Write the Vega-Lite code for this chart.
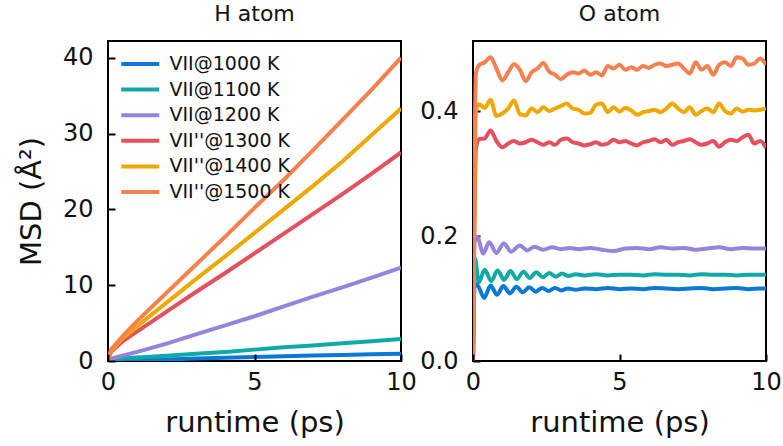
{
  "$schema": "https://vega.github.io/schema/vega-lite/v6.json",
  "background": "white",
  "padding": {"left": 16, "top": 2, "right": 4, "bottom": 0},
  "spacing": 0,
  "datasets": {
    "H": [
      {"t": 0, "msd": 0, "s": "VII@1000 K"}, {"t": 1, "msd": 0.1, "s": "VII@1000 K"}, {"t": 2, "msd": 0.2, "s": "VII@1000 K"}, {"t": 3, "msd": 0.33, "s": "VII@1000 K"}, {"t": 4, "msd": 0.44, "s": "VII@1000 K"}, {"t": 5, "msd": 0.54, "s": "VII@1000 K"}, {"t": 6, "msd": 0.63, "s": "VII@1000 K"}, {"t": 7, "msd": 0.72, "s": "VII@1000 K"}, {"t": 8, "msd": 0.8, "s": "VII@1000 K"}, {"t": 9, "msd": 0.88, "s": "VII@1000 K"}, {"t": 10, "msd": 0.95, "s": "VII@1000 K"},
      {"t": 0, "msd": 0, "s": "VII@1100 K"}, {"t": 0.2, "msd": 0.25, "s": "VII@1100 K"}, {"t": 1, "msd": 0.45, "s": "VII@1100 K"}, {"t": 2, "msd": 0.7, "s": "VII@1100 K"}, {"t": 3, "msd": 0.95, "s": "VII@1100 K"}, {"t": 4, "msd": 1.2, "s": "VII@1100 K"}, {"t": 5, "msd": 1.5, "s": "VII@1100 K"}, {"t": 6, "msd": 1.8, "s": "VII@1100 K"}, {"t": 7, "msd": 2.05, "s": "VII@1100 K"}, {"t": 8, "msd": 2.35, "s": "VII@1100 K"}, {"t": 9, "msd": 2.6, "s": "VII@1100 K"}, {"t": 10, "msd": 2.9, "s": "VII@1100 K"},
      {"t": 0, "msd": 0, "s": "VII@1200 K"}, {"t": 0.2, "msd": 0.4, "s": "VII@1200 K"}, {"t": 1, "msd": 1.2, "s": "VII@1200 K"}, {"t": 2, "msd": 2.3, "s": "VII@1200 K"}, {"t": 3, "msd": 3.5, "s": "VII@1200 K"}, {"t": 4, "msd": 4.7, "s": "VII@1200 K"}, {"t": 5, "msd": 5.9, "s": "VII@1200 K"}, {"t": 6, "msd": 7.2, "s": "VII@1200 K"}, {"t": 7, "msd": 8.5, "s": "VII@1200 K"}, {"t": 8, "msd": 9.7, "s": "VII@1200 K"}, {"t": 9, "msd": 11.0, "s": "VII@1200 K"}, {"t": 10, "msd": 12.3, "s": "VII@1200 K"},
      {"t": 0, "msd": 0, "s": "VII''@1300 K"}, {"t": 0.1, "msd": 1.2, "s": "VII''@1300 K"}, {"t": 0.5, "msd": 2.6, "s": "VII''@1300 K"}, {"t": 1, "msd": 3.9, "s": "VII''@1300 K"}, {"t": 2, "msd": 6.5, "s": "VII''@1300 K"}, {"t": 3, "msd": 9.1, "s": "VII''@1300 K"}, {"t": 4, "msd": 11.6, "s": "VII''@1300 K"}, {"t": 5, "msd": 14.2, "s": "VII''@1300 K"}, {"t": 6, "msd": 16.8, "s": "VII''@1300 K"}, {"t": 7, "msd": 19.4, "s": "VII''@1300 K"}, {"t": 8, "msd": 22.0, "s": "VII''@1300 K"}, {"t": 9, "msd": 24.7, "s": "VII''@1300 K"}, {"t": 10, "msd": 27.5, "s": "VII''@1300 K"},
      {"t": 0, "msd": 0, "s": "VII''@1400 K"}, {"t": 0.1, "msd": 1.3, "s": "VII''@1400 K"}, {"t": 0.5, "msd": 3.0, "s": "VII''@1400 K"}, {"t": 1, "msd": 4.6, "s": "VII''@1400 K"}, {"t": 2, "msd": 7.7, "s": "VII''@1400 K"}, {"t": 3, "msd": 10.8, "s": "VII''@1400 K"}, {"t": 4, "msd": 13.8, "s": "VII''@1400 K"}, {"t": 5, "msd": 16.9, "s": "VII''@1400 K"}, {"t": 6, "msd": 20.0, "s": "VII''@1400 K"}, {"t": 7, "msd": 23.1, "s": "VII''@1400 K"}, {"t": 8, "msd": 26.3, "s": "VII''@1400 K"}, {"t": 9, "msd": 29.8, "s": "VII''@1400 K"}, {"t": 10, "msd": 33.3, "s": "VII''@1400 K"},
      {"t": 0, "msd": 0, "s": "VII''@1500 K"}, {"t": 0.1, "msd": 1.5, "s": "VII''@1500 K"}, {"t": 0.5, "msd": 3.3, "s": "VII''@1500 K"}, {"t": 1, "msd": 5.3, "s": "VII''@1500 K"}, {"t": 2, "msd": 9.0, "s": "VII''@1500 K"}, {"t": 3, "msd": 12.7, "s": "VII''@1500 K"}, {"t": 4, "msd": 16.4, "s": "VII''@1500 K"}, {"t": 5, "msd": 20.2, "s": "VII''@1500 K"}, {"t": 6, "msd": 23.9, "s": "VII''@1500 K"}, {"t": 7, "msd": 27.8, "s": "VII''@1500 K"}, {"t": 8, "msd": 31.8, "s": "VII''@1500 K"}, {"t": 9, "msd": 35.8, "s": "VII''@1500 K"}, {"t": 10, "msd": 40.0, "s": "VII''@1500 K"}
    ],
    "O": [
      {"t": 0, "msd": 0, "s": "VII@1000 K"}, {"t": 0.06, "msd": 0.125, "s": "VII@1000 K"}, {"t": 0.2, "msd": 0.118, "s": "VII@1000 K"}, {"t": 0.38, "msd": 0.101, "s": "VII@1000 K"}, {"t": 0.6, "msd": 0.121, "s": "VII@1000 K"}, {"t": 0.82, "msd": 0.106, "s": "VII@1000 K"}, {"t": 1.04, "msd": 0.12, "s": "VII@1000 K"}, {"t": 1.26, "msd": 0.108, "s": "VII@1000 K"}, {"t": 1.48, "msd": 0.119, "s": "VII@1000 K"}, {"t": 1.7, "msd": 0.11, "s": "VII@1000 K"}, {"t": 1.92, "msd": 0.118, "s": "VII@1000 K"}, {"t": 2.14, "msd": 0.111, "s": "VII@1000 K"}, {"t": 2.36, "msd": 0.117, "s": "VII@1000 K"}, {"t": 2.58, "msd": 0.112, "s": "VII@1000 K"}, {"t": 2.8, "msd": 0.117, "s": "VII@1000 K"}, {"t": 3.02, "msd": 0.113, "s": "VII@1000 K"}, {"t": 3.24, "msd": 0.116, "s": "VII@1000 K"}, {"t": 3.5, "msd": 0.114, "s": "VII@1000 K"}, {"t": 3.8, "msd": 0.116, "s": "VII@1000 K"}, {"t": 4.2, "msd": 0.115, "s": "VII@1000 K"}, {"t": 4.6, "msd": 0.117, "s": "VII@1000 K"}, {"t": 5.0, "msd": 0.115, "s": "VII@1000 K"}, {"t": 5.4, "msd": 0.116, "s": "VII@1000 K"}, {"t": 5.8, "msd": 0.115, "s": "VII@1000 K"}, {"t": 6.2, "msd": 0.117, "s": "VII@1000 K"}, {"t": 6.6, "msd": 0.116, "s": "VII@1000 K"}, {"t": 7.0, "msd": 0.115, "s": "VII@1000 K"}, {"t": 7.4, "msd": 0.116, "s": "VII@1000 K"}, {"t": 7.8, "msd": 0.117, "s": "VII@1000 K"}, {"t": 8.2, "msd": 0.115, "s": "VII@1000 K"}, {"t": 8.6, "msd": 0.116, "s": "VII@1000 K"}, {"t": 9.0, "msd": 0.117, "s": "VII@1000 K"}, {"t": 9.4, "msd": 0.115, "s": "VII@1000 K"}, {"t": 9.8, "msd": 0.116, "s": "VII@1000 K"}, {"t": 10.0, "msd": 0.116, "s": "VII@1000 K"},
      {"t": 0, "msd": 0, "s": "VII@1100 K"}, {"t": 0.06, "msd": 0.165, "s": "VII@1100 K"}, {"t": 0.2, "msd": 0.126, "s": "VII@1100 K"}, {"t": 0.4, "msd": 0.146, "s": "VII@1100 K"}, {"t": 0.62, "msd": 0.128, "s": "VII@1100 K"}, {"t": 0.84, "msd": 0.145, "s": "VII@1100 K"}, {"t": 1.06, "msd": 0.13, "s": "VII@1100 K"}, {"t": 1.28, "msd": 0.144, "s": "VII@1100 K"}, {"t": 1.5, "msd": 0.131, "s": "VII@1100 K"}, {"t": 1.72, "msd": 0.143, "s": "VII@1100 K"}, {"t": 1.94, "msd": 0.133, "s": "VII@1100 K"}, {"t": 2.16, "msd": 0.142, "s": "VII@1100 K"}, {"t": 2.38, "msd": 0.134, "s": "VII@1100 K"}, {"t": 2.6, "msd": 0.141, "s": "VII@1100 K"}, {"t": 2.82, "msd": 0.135, "s": "VII@1100 K"}, {"t": 3.04, "msd": 0.14, "s": "VII@1100 K"}, {"t": 3.26, "msd": 0.136, "s": "VII@1100 K"}, {"t": 3.5, "msd": 0.139, "s": "VII@1100 K"}, {"t": 3.8, "msd": 0.137, "s": "VII@1100 K"}, {"t": 4.2, "msd": 0.139, "s": "VII@1100 K"}, {"t": 4.6, "msd": 0.137, "s": "VII@1100 K"}, {"t": 5.0, "msd": 0.138, "s": "VII@1100 K"}, {"t": 5.4, "msd": 0.138, "s": "VII@1100 K"}, {"t": 5.8, "msd": 0.137, "s": "VII@1100 K"}, {"t": 6.2, "msd": 0.139, "s": "VII@1100 K"}, {"t": 6.6, "msd": 0.138, "s": "VII@1100 K"}, {"t": 7.0, "msd": 0.138, "s": "VII@1100 K"}, {"t": 7.4, "msd": 0.137, "s": "VII@1100 K"}, {"t": 7.8, "msd": 0.139, "s": "VII@1100 K"}, {"t": 8.2, "msd": 0.138, "s": "VII@1100 K"}, {"t": 8.6, "msd": 0.138, "s": "VII@1100 K"}, {"t": 9.0, "msd": 0.137, "s": "VII@1100 K"}, {"t": 9.4, "msd": 0.138, "s": "VII@1100 K"}, {"t": 9.8, "msd": 0.138, "s": "VII@1100 K"}, {"t": 10.0, "msd": 0.138, "s": "VII@1100 K"},
      {"t": 0, "msd": 0, "s": "VII@1200 K"}, {"t": 0.05, "msd": 0.19, "s": "VII@1200 K"}, {"t": 0.15, "msd": 0.198, "s": "VII@1200 K"}, {"t": 0.35, "msd": 0.172, "s": "VII@1200 K"}, {"t": 0.55, "msd": 0.19, "s": "VII@1200 K"}, {"t": 0.8, "msd": 0.173, "s": "VII@1200 K"}, {"t": 1.05, "msd": 0.188, "s": "VII@1200 K"}, {"t": 1.3, "msd": 0.175, "s": "VII@1200 K"}, {"t": 1.6, "msd": 0.185, "s": "VII@1200 K"}, {"t": 1.85, "msd": 0.177, "s": "VII@1200 K"}, {"t": 2.1, "msd": 0.183, "s": "VII@1200 K"}, {"t": 2.4, "msd": 0.178, "s": "VII@1200 K"}, {"t": 2.7, "msd": 0.182, "s": "VII@1200 K"}, {"t": 3.0, "msd": 0.179, "s": "VII@1200 K"}, {"t": 3.3, "msd": 0.181, "s": "VII@1200 K"}, {"t": 3.6, "msd": 0.179, "s": "VII@1200 K"}, {"t": 4.0, "msd": 0.181, "s": "VII@1200 K"}, {"t": 4.4, "msd": 0.178, "s": "VII@1200 K"}, {"t": 4.8, "msd": 0.176, "s": "VII@1200 K"}, {"t": 5.2, "msd": 0.18, "s": "VII@1200 K"}, {"t": 5.6, "msd": 0.181, "s": "VII@1200 K"}, {"t": 6.0, "msd": 0.179, "s": "VII@1200 K"}, {"t": 6.4, "msd": 0.182, "s": "VII@1200 K"}, {"t": 6.8, "msd": 0.18, "s": "VII@1200 K"}, {"t": 7.2, "msd": 0.181, "s": "VII@1200 K"}, {"t": 7.6, "msd": 0.178, "s": "VII@1200 K"}, {"t": 8.0, "msd": 0.18, "s": "VII@1200 K"}, {"t": 8.4, "msd": 0.182, "s": "VII@1200 K"}, {"t": 8.8, "msd": 0.179, "s": "VII@1200 K"}, {"t": 9.2, "msd": 0.181, "s": "VII@1200 K"}, {"t": 9.6, "msd": 0.18, "s": "VII@1200 K"}, {"t": 10.0, "msd": 0.18, "s": "VII@1200 K"},
      {"t": 0, "msd": 0, "s": "VII''@1300 K"}, {"t": 0.1, "msd": 0.34, "s": "VII''@1300 K"}, {"t": 0.2, "msd": 0.355, "s": "VII''@1300 K"}, {"t": 0.4, "msd": 0.356, "s": "VII''@1300 K"}, {"t": 0.6, "msd": 0.369, "s": "VII''@1300 K"}, {"t": 0.8, "msd": 0.352, "s": "VII''@1300 K"}, {"t": 1.0, "msd": 0.342, "s": "VII''@1300 K"}, {"t": 1.2, "msd": 0.348, "s": "VII''@1300 K"}, {"t": 1.4, "msd": 0.352, "s": "VII''@1300 K"}, {"t": 1.6, "msd": 0.348, "s": "VII''@1300 K"}, {"t": 1.8, "msd": 0.35, "s": "VII''@1300 K"}, {"t": 2.0, "msd": 0.354, "s": "VII''@1300 K"}, {"t": 2.2, "msd": 0.35, "s": "VII''@1300 K"}, {"t": 2.4, "msd": 0.346, "s": "VII''@1300 K"}, {"t": 2.6, "msd": 0.35, "s": "VII''@1300 K"}, {"t": 2.8, "msd": 0.346, "s": "VII''@1300 K"}, {"t": 3.0, "msd": 0.354, "s": "VII''@1300 K"}, {"t": 3.2, "msd": 0.356, "s": "VII''@1300 K"}, {"t": 3.4, "msd": 0.35, "s": "VII''@1300 K"}, {"t": 3.6, "msd": 0.348, "s": "VII''@1300 K"}, {"t": 3.8, "msd": 0.345, "s": "VII''@1300 K"}, {"t": 4.0, "msd": 0.347, "s": "VII''@1300 K"}, {"t": 4.2, "msd": 0.35, "s": "VII''@1300 K"}, {"t": 4.4, "msd": 0.346, "s": "VII''@1300 K"}, {"t": 4.6, "msd": 0.348, "s": "VII''@1300 K"}, {"t": 4.8, "msd": 0.354, "s": "VII''@1300 K"}, {"t": 5.0, "msd": 0.35, "s": "VII''@1300 K"}, {"t": 5.2, "msd": 0.352, "s": "VII''@1300 K"}, {"t": 5.4, "msd": 0.348, "s": "VII''@1300 K"}, {"t": 5.6, "msd": 0.345, "s": "VII''@1300 K"}, {"t": 5.8, "msd": 0.35, "s": "VII''@1300 K"}, {"t": 6.0, "msd": 0.352, "s": "VII''@1300 K"}, {"t": 6.2, "msd": 0.355, "s": "VII''@1300 K"}, {"t": 6.4, "msd": 0.35, "s": "VII''@1300 K"}, {"t": 6.6, "msd": 0.354, "s": "VII''@1300 K"}, {"t": 6.8, "msd": 0.346, "s": "VII''@1300 K"}, {"t": 7.0, "msd": 0.35, "s": "VII''@1300 K"}, {"t": 7.2, "msd": 0.352, "s": "VII''@1300 K"}, {"t": 7.4, "msd": 0.355, "s": "VII''@1300 K"}, {"t": 7.6, "msd": 0.35, "s": "VII''@1300 K"}, {"t": 7.8, "msd": 0.346, "s": "VII''@1300 K"}, {"t": 8.0, "msd": 0.348, "s": "VII''@1300 K"}, {"t": 8.2, "msd": 0.352, "s": "VII''@1300 K"}, {"t": 8.4, "msd": 0.343, "s": "VII''@1300 K"}, {"t": 8.6, "msd": 0.35, "s": "VII''@1300 K"}, {"t": 8.8, "msd": 0.354, "s": "VII''@1300 K"}, {"t": 9.0, "msd": 0.352, "s": "VII''@1300 K"}, {"t": 9.2, "msd": 0.358, "s": "VII''@1300 K"}, {"t": 9.4, "msd": 0.362, "s": "VII''@1300 K"}, {"t": 9.6, "msd": 0.348, "s": "VII''@1300 K"}, {"t": 9.8, "msd": 0.352, "s": "VII''@1300 K"}, {"t": 10.0, "msd": 0.341, "s": "VII''@1300 K"},
      {"t": 0, "msd": 0, "s": "VII''@1400 K"}, {"t": 0.1, "msd": 0.4, "s": "VII''@1400 K"}, {"t": 0.2, "msd": 0.411, "s": "VII''@1400 K"}, {"t": 0.4, "msd": 0.405, "s": "VII''@1400 K"}, {"t": 0.6, "msd": 0.418, "s": "VII''@1400 K"}, {"t": 0.8, "msd": 0.392, "s": "VII''@1400 K"}, {"t": 1.0, "msd": 0.396, "s": "VII''@1400 K"}, {"t": 1.2, "msd": 0.404, "s": "VII''@1400 K"}, {"t": 1.4, "msd": 0.417, "s": "VII''@1400 K"}, {"t": 1.6, "msd": 0.395, "s": "VII''@1400 K"}, {"t": 1.8, "msd": 0.393, "s": "VII''@1400 K"}, {"t": 2.0, "msd": 0.404, "s": "VII''@1400 K"}, {"t": 2.2, "msd": 0.398, "s": "VII''@1400 K"}, {"t": 2.4, "msd": 0.406, "s": "VII''@1400 K"}, {"t": 2.6, "msd": 0.4, "s": "VII''@1400 K"}, {"t": 2.8, "msd": 0.404, "s": "VII''@1400 K"}, {"t": 3.0, "msd": 0.408, "s": "VII''@1400 K"}, {"t": 3.2, "msd": 0.412, "s": "VII''@1400 K"}, {"t": 3.4, "msd": 0.404, "s": "VII''@1400 K"}, {"t": 3.6, "msd": 0.402, "s": "VII''@1400 K"}, {"t": 3.8, "msd": 0.396, "s": "VII''@1400 K"}, {"t": 4.0, "msd": 0.397, "s": "VII''@1400 K"}, {"t": 4.2, "msd": 0.41, "s": "VII''@1400 K"}, {"t": 4.4, "msd": 0.412, "s": "VII''@1400 K"}, {"t": 4.6, "msd": 0.398, "s": "VII''@1400 K"}, {"t": 4.8, "msd": 0.406, "s": "VII''@1400 K"}, {"t": 5.0, "msd": 0.399, "s": "VII''@1400 K"}, {"t": 5.2, "msd": 0.405, "s": "VII''@1400 K"}, {"t": 5.4, "msd": 0.401, "s": "VII''@1400 K"}, {"t": 5.6, "msd": 0.394, "s": "VII''@1400 K"}, {"t": 5.8, "msd": 0.398, "s": "VII''@1400 K"}, {"t": 6.0, "msd": 0.4, "s": "VII''@1400 K"}, {"t": 6.2, "msd": 0.402, "s": "VII''@1400 K"}, {"t": 6.4, "msd": 0.398, "s": "VII''@1400 K"}, {"t": 6.6, "msd": 0.404, "s": "VII''@1400 K"}, {"t": 6.8, "msd": 0.412, "s": "VII''@1400 K"}, {"t": 7.0, "msd": 0.404, "s": "VII''@1400 K"}, {"t": 7.2, "msd": 0.398, "s": "VII''@1400 K"}, {"t": 7.4, "msd": 0.406, "s": "VII''@1400 K"}, {"t": 7.6, "msd": 0.394, "s": "VII''@1400 K"}, {"t": 7.8, "msd": 0.4, "s": "VII''@1400 K"}, {"t": 8.0, "msd": 0.404, "s": "VII''@1400 K"}, {"t": 8.2, "msd": 0.398, "s": "VII''@1400 K"}, {"t": 8.4, "msd": 0.412, "s": "VII''@1400 K"}, {"t": 8.6, "msd": 0.4, "s": "VII''@1400 K"}, {"t": 8.8, "msd": 0.396, "s": "VII''@1400 K"}, {"t": 9.0, "msd": 0.404, "s": "VII''@1400 K"}, {"t": 9.2, "msd": 0.399, "s": "VII''@1400 K"}, {"t": 9.4, "msd": 0.402, "s": "VII''@1400 K"}, {"t": 9.6, "msd": 0.401, "s": "VII''@1400 K"}, {"t": 9.8, "msd": 0.402, "s": "VII''@1400 K"}, {"t": 10.0, "msd": 0.404, "s": "VII''@1400 K"},
      {"t": 0, "msd": 0, "s": "VII''@1500 K"}, {"t": 0.1, "msd": 0.46, "s": "VII''@1500 K"}, {"t": 0.2, "msd": 0.473, "s": "VII''@1500 K"}, {"t": 0.4, "msd": 0.478, "s": "VII''@1500 K"}, {"t": 0.6, "msd": 0.486, "s": "VII''@1500 K"}, {"t": 0.8, "msd": 0.468, "s": "VII''@1500 K"}, {"t": 1.0, "msd": 0.449, "s": "VII''@1500 K"}, {"t": 1.2, "msd": 0.462, "s": "VII''@1500 K"}, {"t": 1.4, "msd": 0.475, "s": "VII''@1500 K"}, {"t": 1.6, "msd": 0.466, "s": "VII''@1500 K"}, {"t": 1.8, "msd": 0.448, "s": "VII''@1500 K"}, {"t": 2.0, "msd": 0.462, "s": "VII''@1500 K"}, {"t": 2.2, "msd": 0.468, "s": "VII''@1500 K"}, {"t": 2.4, "msd": 0.477, "s": "VII''@1500 K"}, {"t": 2.6, "msd": 0.463, "s": "VII''@1500 K"}, {"t": 2.8, "msd": 0.458, "s": "VII''@1500 K"}, {"t": 3.0, "msd": 0.451, "s": "VII''@1500 K"}, {"t": 3.2, "msd": 0.458, "s": "VII''@1500 K"}, {"t": 3.4, "msd": 0.462, "s": "VII''@1500 K"}, {"t": 3.6, "msd": 0.46, "s": "VII''@1500 K"}, {"t": 3.8, "msd": 0.465, "s": "VII''@1500 K"}, {"t": 4.0, "msd": 0.458, "s": "VII''@1500 K"}, {"t": 4.2, "msd": 0.462, "s": "VII''@1500 K"}, {"t": 4.4, "msd": 0.457, "s": "VII''@1500 K"}, {"t": 4.6, "msd": 0.472, "s": "VII''@1500 K"}, {"t": 4.8, "msd": 0.468, "s": "VII''@1500 K"}, {"t": 5.0, "msd": 0.474, "s": "VII''@1500 K"}, {"t": 5.2, "msd": 0.466, "s": "VII''@1500 K"}, {"t": 5.4, "msd": 0.47, "s": "VII''@1500 K"}, {"t": 5.6, "msd": 0.466, "s": "VII''@1500 K"}, {"t": 5.8, "msd": 0.472, "s": "VII''@1500 K"}, {"t": 6.0, "msd": 0.469, "s": "VII''@1500 K"}, {"t": 6.2, "msd": 0.474, "s": "VII''@1500 K"}, {"t": 6.4, "msd": 0.476, "s": "VII''@1500 K"}, {"t": 6.6, "msd": 0.472, "s": "VII''@1500 K"}, {"t": 6.8, "msd": 0.474, "s": "VII''@1500 K"}, {"t": 7.0, "msd": 0.476, "s": "VII''@1500 K"}, {"t": 7.2, "msd": 0.468, "s": "VII''@1500 K"}, {"t": 7.4, "msd": 0.46, "s": "VII''@1500 K"}, {"t": 7.6, "msd": 0.478, "s": "VII''@1500 K"}, {"t": 7.8, "msd": 0.466, "s": "VII''@1500 K"}, {"t": 8.0, "msd": 0.472, "s": "VII''@1500 K"}, {"t": 8.2, "msd": 0.458, "s": "VII''@1500 K"}, {"t": 8.4, "msd": 0.474, "s": "VII''@1500 K"}, {"t": 8.6, "msd": 0.478, "s": "VII''@1500 K"}, {"t": 8.8, "msd": 0.472, "s": "VII''@1500 K"}, {"t": 9.0, "msd": 0.486, "s": "VII''@1500 K"}, {"t": 9.2, "msd": 0.484, "s": "VII''@1500 K"}, {"t": 9.4, "msd": 0.474, "s": "VII''@1500 K"}, {"t": 9.6, "msd": 0.476, "s": "VII''@1500 K"}, {"t": 9.8, "msd": 0.484, "s": "VII''@1500 K"}, {"t": 10.0, "msd": 0.474, "s": "VII''@1500 K"}
    ]
  },
  "hconcat": [
    {
      "width": 293,
      "height": 320,
      "title": "H atom",
      "data": {"name": "H"},
      "mark": {"type": "line", "strokeWidth": 4, "clip": true},
      "encoding": {
        "x": {"field": "t", "type": "quantitative", "title": "runtime (ps)", "scale": {"domain": [0, 10], "nice": false}, "axis": {"values": [0, 5, 10], "ticks": true, "tickSize": 7, "offset": -7, "zindex": 1}},
        "y": {"field": "msd", "type": "quantitative", "title": "MSD (Å²)", "scale": {"domain": [0, 42.2], "nice": false}, "axis": {"values": [0, 10, 20, 30, 40], "ticks": true, "tickSize": 7, "offset": -7, "zindex": 1}},
        "color": {
          "field": "s", "type": "nominal",
          "scale": {"domain": ["VII@1000 K", "VII@1100 K", "VII@1200 K", "VII''@1300 K", "VII''@1400 K", "VII''@1500 K"], "range": ["#0b78d8", "#10aaa6", "#9583dc", "#e4505e", "#eea800", "#f6814f"]},
          "legend": {"orient": "top-left", "title": null, "offset": 11, "symbolType": "M-1,0H2.9", "symbolSize": 380, "symbolStrokeWidth": 4, "symbolFillColor": "transparent", "labelFontSize": 19, "labelColor": "#111", "rowPadding": 3.6, "labelOffset": 26.5}
        }
      }
    },
    {
      "width": 293,
      "height": 320,
      "title": "O atom",
      "data": {"name": "O"},
      "mark": {"type": "line", "strokeWidth": 4, "clip": true, "interpolate": "monotone"},
      "encoding": {
        "x": {"field": "t", "type": "quantitative", "title": "runtime (ps)", "scale": {"domain": [0, 10], "nice": false}, "axis": {"values": [0, 5, 10], "ticks": true, "tickSize": 7, "offset": -7, "zindex": 1}},
        "y": {"field": "msd", "type": "quantitative", "title": null, "scale": {"domain": [0, 0.512], "nice": false}, "axis": {"values": [0, 0.2, 0.4], "format": ".1f", "ticks": true, "tickSize": 7, "offset": -7, "zindex": 0}},
        "color": {
          "field": "s", "type": "nominal",
          "scale": {"domain": ["VII@1000 K", "VII@1100 K", "VII@1200 K", "VII''@1300 K", "VII''@1400 K", "VII''@1500 K"], "range": ["#0b78d8", "#10aaa6", "#9583dc", "#e4505e", "#eea800", "#f6814f"]},
          "legend": null
        }
      }
    }
  ],
  "resolve": {"scale": {"color": "independent"}, "legend": {"color": "independent"}},
  "config": {
    "font": "DejaVu Sans",
    "view": {"stroke": "black", "strokeWidth": 2},
    "axis": {"grid": false, "domain": false, "tickColor": "black", "tickOpacity": 1, "tickWidth": 2, "labelPadding": 9, "labelFontSize": 24, "labelColor": "#111", "labelFont": "DejaVu Sans", "titleFont": "DejaVu Sans", "titleFontSize": 29, "titleFontWeight": "normal", "titleColor": "#111"},
    "axisX": {"labelFlush": false, "titlePadding": 14},
    "axisY": {"labelFlush": false, "titlePadding": 16, "labelPadding": 15},
    "title": {"fontSize": 22, "fontWeight": "normal", "font": "DejaVu Sans", "color": "#111", "offset": 15},
    "legend": {"labelFont": "DejaVu Sans"}
  }
}
